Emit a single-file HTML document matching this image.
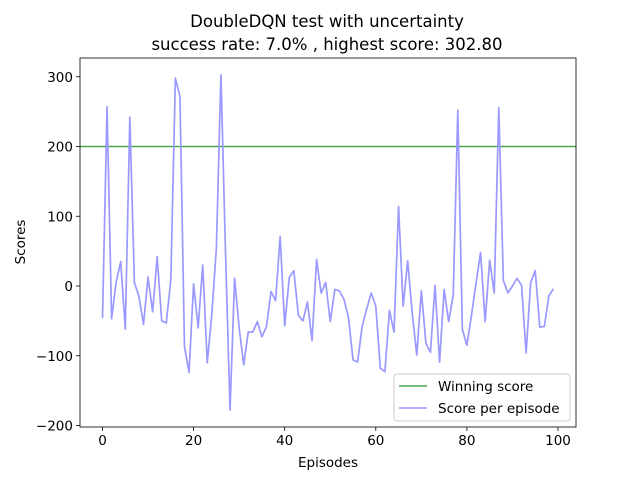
<!DOCTYPE html>
<html><head><meta charset="utf-8"><style>body{margin:0;background:#fff}svg{display:block;font-family:"DejaVu Sans","Liberation Sans",sans-serif}</style></head>
<body>
<svg id="chart" width="640" height="480" viewBox="0 0 640 480">
<rect width="640" height="480" fill="#fff"/>
<text x="327" y="27" text-anchor="middle" font-size="16.5">DoubleDQN test with uncertainty</text>
<text x="327" y="50" text-anchor="middle" font-size="16.5">success rate: 7.0% , highest score: 302.80</text>
<g id="plot"></g>
<text x="328" y="467" text-anchor="middle" font-size="13.5">Episodes</text>
<text transform="translate(25,242) rotate(-90)" text-anchor="middle" font-size="13.5">Scores</text>
<g>
<rect x="394" y="374" width="176" height="47" rx="3" fill="#fff" fill-opacity="0.8" stroke="#ccc"/>
<line x1="399" y1="386" x2="427" y2="386" stroke="#4aa64a" stroke-width="1.5"/>
<text x="438" y="391" font-size="13.5">Winning score</text>
<line x1="399" y1="408" x2="427" y2="408" stroke="#9999ff" stroke-width="1.5"/>
<text x="438" y="413" font-size="13.5">Score per episode</text>
</g>
</svg>
<script>
const scores = [-46,257,-47,6,35,-62,242,5,-15,-55,13,-37,42,-50,-53,9,298,272,-87,-124,3,-60,30,-110,-40,54,302.8,50,-178,11,-60,-113,-66,-66,-51,-73,-58,-8,-21,71,-57,12,22,-42,-50,-23,-78,38,-10,5,-51,-5,-7,-19,-45,-106,-109,-58,-33,-10,-29,-118,-123,-35,-66,114,-29,36,-39,-99,-7,-82,-95,1,-109,-5,-51,-13,252,-62,-85,-42,4,48,-51,37,-10,256,8,-10,0,11,1,-96,5,22,-59,-58,-14,-4];
const winningScore = 200;
const xTicks = [0,20,40,60,80,100];
const yTicks = [-200,-100,0,100,200,300];
const L=80,R=576,T=58,B=427;
const xs = v => 102.5 + (v-0)*(558-102.5)/100;
const ys = v => 286 - v*0.6975;
const NS='http://www.w3.org/2000/svg';
const g=document.getElementById('plot');
function mk(t,a){const e=document.createElementNS(NS,t);for(const k in a)e.setAttribute(k,a[k]);g.appendChild(e);return e;}
xTicks.forEach(t=>{
  const l=mk('line',{x1:xs(t),x2:xs(t),y1:B,y2:B+4,stroke:'#000','stroke-width':0.8});
  
  
  const tx=mk('text',{x:xs(t),y:B+18,'text-anchor':'middle','font-size':13.5});
  tx.textContent=t;
  
  
});
yTicks.forEach(t=>{
  const l=mk('line',{x1:L-4,x2:L,y1:ys(t),y2:ys(t),stroke:'#000','stroke-width':0.8});
  
  
  const tx=mk('text',{x:L-7,y:ys(t)+5,'text-anchor':'end','font-size':13.5});
  tx.textContent=String(t).replace('-','\u2212');
  
  
});
const w=mk('line',{x1:L,x2:R,y1:ys(winningScore),y2:ys(winningScore),stroke:'#4aa64a','stroke-width':1.5});


const p=mk('polyline',{points:scores.map((v,i)=>xs(i)+','+ys(v)).join(' '),fill:'none',stroke:'#9999ff','stroke-width':1.7,'stroke-linejoin':'round'});


const f=mk('rect',{x:L,y:T,width:R-L,height:B-T,fill:'none',stroke:'#000','stroke-width':0.8});


</script>
</body></html>
